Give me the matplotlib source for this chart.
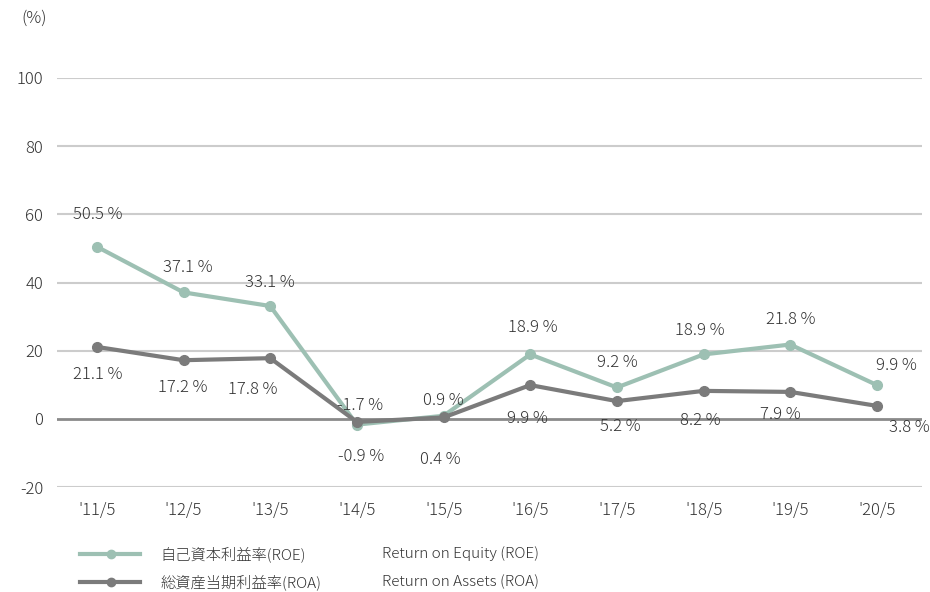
import matplotlib
matplotlib.use("Agg")
import matplotlib.pyplot as plt
from matplotlib.lines import Line2D

plt.rcParams['font.family'] = ['Noto Sans CJK JP', 'DejaVu Sans']
plt.rcParams['font.weight'] = 'light'
plt.rcParams['axes.unicode_minus'] = False

years = ["'11/5", "'12/5", "'13/5", "'14/5", "'15/5", "'16/5", "'17/5", "'18/5", "'19/5", "'20/5"]
roe = [50.5, 37.1, 33.1, -1.7, 0.9, 18.9, 9.2, 18.9, 21.8, 9.9]
roa = [21.1, 17.2, 17.8, -0.9, 0.4, 9.9, 5.2, 8.2, 7.9, 3.8]
roe_label_jp = "自己資本利益率(ROE)"
roa_label_jp = "総資産当期利益率(ROA)"
roe_label_en = "Return on Equity (ROE)"
roa_label_en = "Return on Assets (ROA)"
yticks = [-20, 0, 20, 40, 60, 80, 100]

c_roe = "#9dc0b3"
c_roa = "#7b7b7b"
c_text = "#333333"

W, H = 930, 592
fig = plt.figure(figsize=(W / 100, H / 100), dpi=100)
ax = fig.add_axes([57 / W, 1 - 487 / H, (922 - 57) / W, (487 - 78) / H])

x = list(range(len(years)))
for v in yticks:
    if v == 0:
        ax.axhline(v, color="#8a8a8a", lw=2.0, zorder=1)
    else:
        ax.axhline(v, color="#cccccc", lw=1.5, zorder=1)

ax.plot(x, roe, color=c_roe, lw=3.0, marker="o", ms=7, zorder=3, solid_capstyle="round")
ax.plot(x, roa, color=c_roa, lw=3.0, marker="o", ms=7, zorder=4, solid_capstyle="round")

ax.set_xlim(-0.46, 9.52)
ax.set_ylim(-20, 100)
ax.set_xticks(x)
ax.set_xticklabels(years)
ax.set_yticks(yticks)
ax.tick_params(axis="both", length=0, labelsize=12, colors=c_text)
ax.tick_params(axis="y", pad=10)
ax.tick_params(axis="x", pad=11)
for s in ax.spines.values():
    s.set_visible(False)

# label offsets in pixels (dx, dy) relative to point
roe_off = [(1, 32), (4, 25), (0, 24), (3, 19), (0, 15), (3, 27), (0, 25), (-4, 24), (0, 25), (20, 20)]
roa_off = [(1, -28), (-1, -27), (-17, -31), (4, -35), (-3, -42), (-3, -33), (3, -25), (-3, -30), (-10, -23), (32, -22)]
for i in x:
    ax.annotate(f"{roe[i]} %", (i, roe[i]), xytext=roe_off[i], textcoords="offset pixels",
                ha="center", va="center", fontsize=12, color=c_text, zorder=5)
    ax.annotate(f"{roa[i]} %", (i, roa[i]), xytext=roa_off[i], textcoords="offset pixels",
                ha="center", va="center", fontsize=12, color=c_text, zorder=5)

fig.text(21 / W, 1 - 18 / H, "(%)", fontsize=12, color=c_text, ha="left", va="center")

# legend
for (yy, col, jp, en) in [(554, c_roe, roe_label_jp, roe_label_en), (582, c_roa, roa_label_jp, roa_label_en)]:
    fy = 1 - yy / H
    fig.add_artist(Line2D([80 / W, 140 / W], [fy, fy], color=col, lw=3.0, transform=fig.transFigure))
    fig.add_artist(Line2D([111 / W], [fy], color=col, marker="o", ms=6, transform=fig.transFigure))
    fig.text(160 / W, fy, jp, fontsize=11, color=c_text, ha="left", va="center")
    fig.text(382 / W, fy, en, fontsize=11, color=c_text, ha="left", va="center")

fig.savefig("out.png", dpi=100, facecolor="white")
